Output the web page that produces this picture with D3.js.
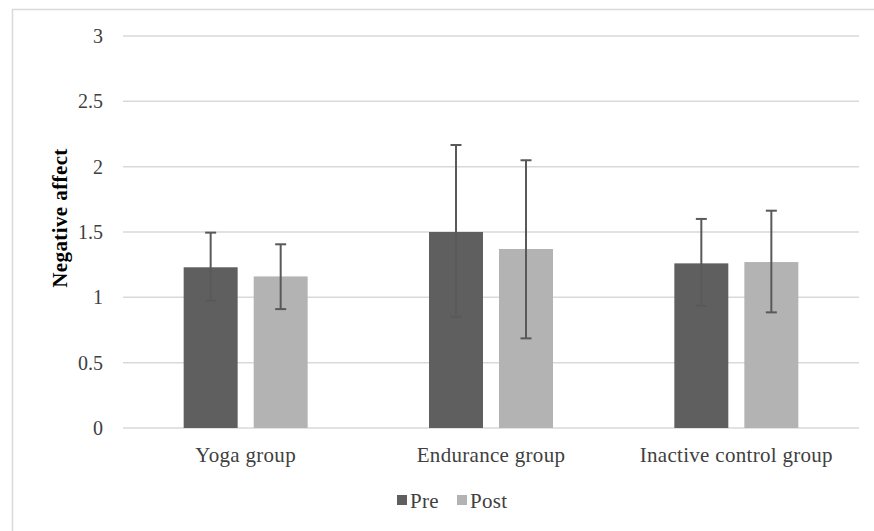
<!DOCTYPE html>
<html><head><meta charset="utf-8">
<script src="https://cdn.jsdelivr.net/npm/d3@7"></script>
<style>body{margin:0;background:#fff}svg{display:block}</style>
</head><body>
<script>
const categories = ["Yoga group", "Endurance group", "Inactive control group"];
const seriesNames = ["Pre", "Post"];
const preValues = [1.23, 1.50, 1.26];
const postValues = [1.16, 1.37, 1.27];
const preErrHigh = [1.495, 2.166, 1.60];
const preErrLow = [0.974, 0.852, 0.936];
const postErrHigh = [1.406, 2.049, 1.663];
const postErrLow = [0.91, 0.686, 0.885];
const yTicks = [0, 0.5, 1, 1.5, 2, 2.5, 3];
const yTickLabels = ["0", "0.5", "1", "1.5", "2", "2.5", "3"];
const colors = ["#5f5f5f", "#b3b3b3"];

const W = 874, H = 531;
const svg = d3.select("body").append("svg").attr("width", W).attr("height", H);
const font = "'Liberation Serif','Times New Roman',serif";

svg.append("rect").attr("x", 12.5).attr("y", 9.5).attr("width", W + 10).attr("height", H + 10)
  .attr("fill", "none").attr("stroke", "#d9d9d9").attr("stroke-width", 1.5);

const pLeft = 123, pRight = 859, pTop = 36, pBottom = 428;
const y = d3.scaleLinear().domain([0, 3]).range([pBottom, pTop]);
const x0 = d3.scaleBand().domain(categories).range([pLeft, pRight]).paddingInner(0).paddingOuter(0);
const groupW = 124;
const x1 = d3.scaleBand().domain(seriesNames).range([0, groupW]).paddingInner(0.229).paddingOuter(0);

// gridlines
svg.append("g").selectAll("line").data(yTicks).join("line")
  .attr("x1", pLeft).attr("x2", pRight)
  .attr("y1", d => y(d)).attr("y2", d => y(d))
  .attr("stroke", "#d9d9d9").attr("stroke-width", 1.5);

// y tick labels
svg.append("g").selectAll("text").data(yTicks).join("text")
  .attr("x", 103).attr("y", d => y(d)).attr("dy", "0.35em")
  .attr("text-anchor", "end").attr("font-family", font).attr("font-size", 20).attr("fill", "#404040")
  .text((d, i) => yTickLabels[i]);

// y axis title
svg.append("text").attr("transform", `translate(67,218) rotate(-90)`)
  .attr("text-anchor", "middle").attr("font-family", font).attr("font-size", 21).attr("font-weight", "bold")
  .attr("letter-spacing", 0.4).attr("fill", "#000").text("Negative affect");

const rows = categories.map((c, i) => [
  {cat: c, s: "Pre", v: preValues[i], hi: preErrHigh[i], lo: preErrLow[i], col: colors[0]},
  {cat: c, s: "Post", v: postValues[i], hi: postErrHigh[i], lo: postErrLow[i], col: colors[1]}
]).flat();

const off = (x0.bandwidth() - groupW) / 2;
const bx = d => x0(d.cat) + off + x1(d.s);

svg.append("g").selectAll("rect").data(rows).join("rect")
  .attr("x", bx).attr("width", x1.bandwidth())
  .attr("y", d => y(d.v)).attr("height", d => y(0) - y(d.v))
  .attr("fill", d => d.col);

// error bars
const eb = svg.append("g").attr("stroke", "#595959").attr("stroke-width", 2);
rows.forEach(d => {
  const cx = bx(d) + x1.bandwidth() / 2;
  eb.append("line").attr("x1", cx).attr("x2", cx).attr("y1", y(d.hi)).attr("y2", y(d.lo));
  eb.append("line").attr("x1", cx - 5.5).attr("x2", cx + 5.5).attr("y1", y(d.hi)).attr("y2", y(d.hi));
  eb.append("line").attr("x1", cx - 5.5).attr("x2", cx + 5.5).attr("y1", y(d.lo)).attr("y2", y(d.lo));
});

// category labels
svg.append("g").selectAll("text").data(categories).join("text")
  .attr("x", d => x0(d) + x0.bandwidth() / 2).attr("y", 462)
  .attr("text-anchor", "middle").attr("font-family", font).attr("font-size", 21)
  .attr("letter-spacing", 0.3).attr("fill", "#404040")
  .text(d => d);

// legend
const legendX = [397, 457];
const lg = svg.append("g");
seriesNames.forEach((s, i) => {
  lg.append("rect").attr("x", legendX[i]).attr("y", 495).attr("width", 10).attr("height", 10).attr("fill", colors[i]);
  lg.append("text").attr("x", legendX[i] + 13).attr("y", 508)
    .attr("font-family", font).attr("font-size", 21).attr("letter-spacing", 0.3).attr("fill", "#404040").text(s);
});
</script>
</body></html>
